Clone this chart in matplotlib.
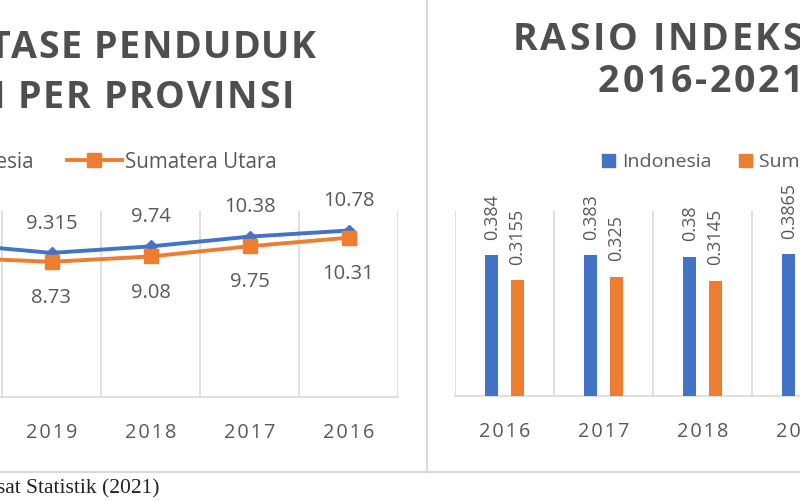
import matplotlib.pyplot as plt
from matplotlib.lines import Line2D
from matplotlib.patches import Patch
from matplotlib.font_manager import FontProperties

# Data
line_years = ["2021", "2020", "2019", "2018", "2017", "2016"]
line_indonesia = [9.9, 9.9, 9.315, 9.74, 10.38, 10.78]
line_sumut = [8.8, 9.0, 8.73, 9.08, 9.75, 10.31]

bar_years = ["2016", "2017", "2018", "2019", "2020", "2021"]
gini_indonesia = [0.384, 0.383, 0.38, 0.3865, 0.383, 0.3825]
gini_sumut = [0.3155, 0.325, 0.3145, 0.3165, 0.314, 0.3135]

BLUE = "#4472C4"
ORANGE = "#ED7D31"
GRID = "#D9D9D9"
TEXT = "#595959"

plt.rcParams["font.family"] = ["Open Sans", "DejaVu Sans"]

W, H = 800, 500
fig = plt.figure(figsize=(8, 5), dpi=100)
renderer = fig.canvas.get_renderer()


def fx(px):
    return px / W


def fy(py):
    return 1 - py / H


# Excel-style character spacing using hair spaces (tick labels)
def spaced(s):
    return "\u200a".join(s)


# Title text with finer tracking: place characters one by one
def tracked_text(x, y, s, ha, track, prop, color):
    w0 = renderer.get_text_width_height_descent("HH", prop, ismath=False)[0]
    advs = [renderer.get_text_width_height_descent("H" + c + "H", prop, ismath=False)[0] - w0
            for c in s]
    total = sum(advs) + track * (len(s) - 1)
    pos = x if ha == "left" else x - total
    for c, a in zip(s, advs):
        if c != " ":
            fig.text(fx(pos), fy(y), c, fontproperties=prop, color=color,
                     ha="left", va="baseline")
        pos += a + track


def style_axes(ax, labels):
    n = len(labels)
    ax.set_xlim(-0.5, n - 0.5)
    ax.set_xticks(range(n))
    ax.set_xticklabels([spaced(t) for t in labels])
    ax.set_xticks([i - 0.5 for i in range(n + 1)], minor=True)
    ax.grid(which="minor", axis="x", color=GRID, linewidth=1.2)
    ax.tick_params(which="both", length=0)
    ax.tick_params(axis="x", labelsize=14.3, labelcolor=TEXT, pad=19)
    ax.set_yticks([])
    for s in ["top", "left", "right"]:
        ax.spines[s].set_visible(False)
    ax.spines["bottom"].set_color(GRID)
    ax.spines["bottom"].set_linewidth(1.2)


# Left chart: line
ax1 = fig.add_axes([fx(-196), fy(397), fx(594), (397 - 211) / H])
x1 = range(len(line_years))
ax1.plot(x1, line_indonesia, color=BLUE, linewidth=2.8, marker="D",
         markersize=6, label="Indonesia", zorder=3)
ax1.plot(x1, line_sumut, color=ORANGE, linewidth=2.8, marker="s",
         markersize=10.5, label="Sumatera Utara", zorder=3)
style_axes(ax1, line_years)
ax1.set_ylim(-0.13, 12.06)
for i, v in enumerate(line_indonesia):
    ax1.annotate(f"{v:g}", (i, v), xytext=(0, 21), textcoords="offset points",
                 ha="center", va="center", fontsize=14.5, color=TEXT)
for i, v in enumerate(line_sumut):
    ax1.annotate(f"{v:g}", (i, v), xytext=(0, -26), textcoords="offset points",
                 ha="center", va="center", fontsize=14.5, color=TEXT)
ax1.legend(loc="center right", bbox_to_anchor=(fx(287), fy(162)),
           bbox_transform=fig.transFigure, ncol=2, frameon=False,
           fontsize=14.8, labelcolor=TEXT, borderpad=0, handlelength=2.7,
           handletextpad=0.15, columnspacing=1.6)

# Right chart: bars
ax2 = fig.add_axes([fx(455), fy(396), fx(594), (396 - 211) / H])
x2 = range(len(bar_years))
off, bw = 0.13, 0.135
b1 = ax2.bar([i - off for i in x2], gini_indonesia, width=bw, color=BLUE,
             label="Indonesia", zorder=3)
b2 = ax2.bar([i + off for i in x2], gini_sumut, width=bw, color=ORANGE,
             label="Sumatera Utara", zorder=3)
style_axes(ax2, bar_years)
ax2.set_ylim(0, 0.504)
for bars, vals in [(b1, gini_indonesia), (b2, gini_sumut)]:
    for r, v in zip(bars, vals):
        ax2.annotate(f"{v:g}", (r.get_x() + r.get_width() / 2, v),
                     xytext=(0, 11), textcoords="offset points", rotation=90,
                     ha="center", va="bottom", fontsize=13, color=TEXT)
ax2.legend(handles=[Patch(color=BLUE, label="Indonesia"),
                    Patch(color=ORANGE, label="Sumatera Utara")],
           loc="center left", bbox_to_anchor=(fx(592), fy(162)),
           bbox_transform=fig.transFigure, ncol=2, frameon=False,
           fontsize=14, labelcolor=TEXT, borderpad=0, handlelength=0.67,
           handleheight=0.67, handletextpad=0.36, columnspacing=1.45)

# Titles
title_prop = FontProperties(family=["Open Sans", "DejaVu Sans"], weight="bold", size=27)
title_color = "#4F4F4F"
tracked_text(316, 58, "PERSENTASE PENDUDUK", "right", 1.4, title_prop, title_color)
tracked_text(294, 108, "MISKIN PER PROVINSI", "right", 1.7, title_prop, title_color)
tracked_text(513, 50, "RASIO INDEKS GINI", "left", 2.7, title_prop, title_color)
tracked_text(598, 92, "2016-2021", "left", 2.7, title_prop, title_color)

# Chart borders and source note
fig.add_artist(Line2D([fx(427), fx(427)], [fy(0), fy(472)], color=GRID, linewidth=1.5))
fig.add_artist(Line2D([0, 1], [fy(472), fy(472)], color=GRID, linewidth=1.5))
fig.text(fx(160), fy(489), "Sumber: Badan Pusat Statistik (2021)", ha="right",
         va="center", fontsize=15.5, color="#222222", family="Liberation Serif")

fig.savefig("out.png", dpi=100)
